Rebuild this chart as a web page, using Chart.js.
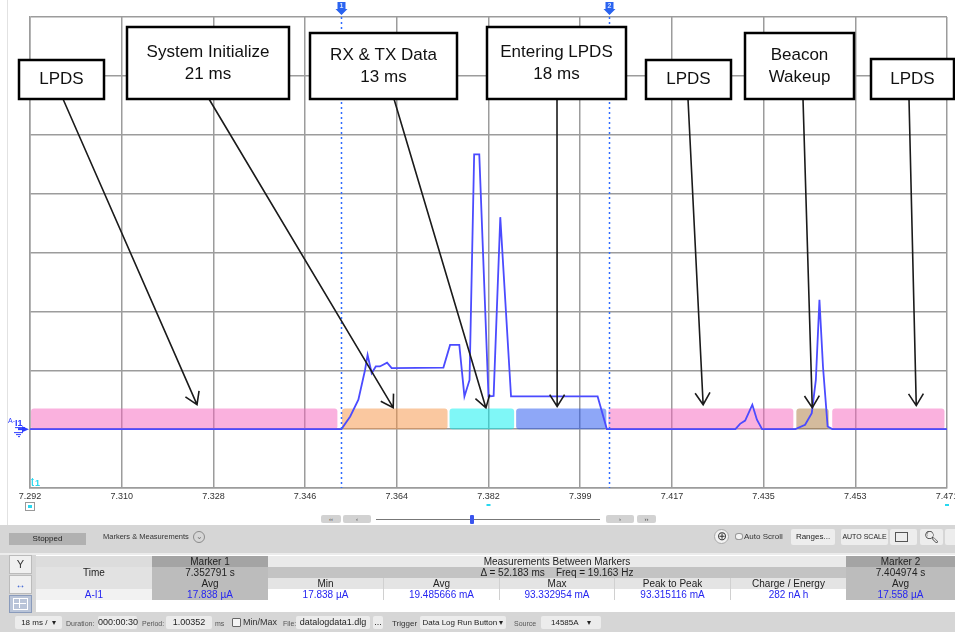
<!DOCTYPE html>
<html>
<head>
<meta charset="utf-8">
<script src="https://cdn.jsdelivr.net/npm/chart.js@4.4.0/dist/chart.umd.min.js"></script>
<style>
  body { margin: 0; background: #fff; font-family: "Liberation Sans", Arial, sans-serif; }
  #wrap { position: relative; width: 955px; height: 632px; overflow: hidden; background: #fff; }
  #grafico { position: absolute; left: 0; top: 0; }
  #borde { position: absolute; left: 7px; top: 0; width: 1px; height: 525px; background: #e2e2e2; }
  .a { position: absolute; white-space: nowrap; }
  .btn { position: absolute; background: #d2d2d2; border-radius: 2px; font-size: 6px; color: #444; text-align: center; line-height: 8px; height: 8px; }
  .c { position: absolute; height: 11px; line-height: 11px; font-size: 10px; text-align: center; white-space: nowrap; color: #222; }
  .v { color: #2626f0; }
  .tb { position: absolute; font-size: 8px; color: #333; white-space: nowrap; }
  .et { position: absolute; font-size: 7px; color: #555; white-space: nowrap; }
  .campo { position: absolute; background: #ececec; border-radius: 2px; height: 13px; line-height: 13px; font-size: 9px; color: #222; text-align: center; white-space: nowrap; }
</style>
</head>
<body>
<div id="wrap">
  <canvas id="grafico" width="955" height="525"></canvas>
  <div id="borde"></div>

  <!-- barra de desplazamiento bajo el gráfico -->
  <div class="btn" style="left:321px;top:515px;width:20px;">&lsaquo;&lsaquo;</div>
  <div class="btn" style="left:343px;top:515px;width:28px;">&lsaquo;</div>
  <div class="a" style="left:376px;top:519px;width:224px;height:1px;background:#777;"></div>
  <div class="a" style="left:470px;top:515px;width:4px;height:9px;background:#3a55ee;border-radius:1px;"></div>
  <div class="btn" style="left:606px;top:515px;width:28px;">&rsaquo;</div>
  <div class="btn" style="left:637px;top:515px;width:19px;">&rsaquo;&rsaquo;</div>

  <!-- panel gris -->
  <div class="a" style="left:0;top:525px;width:955px;height:107px;background:#d6d6d6;"></div>
  <div class="a" style="left:0;top:553px;width:955px;height:2px;background:#ececec;"></div>

  <div class="a" style="left:9px;top:533px;width:77px;height:12px;background:#b1b1b1;font-size:8px;line-height:12px;text-align:center;color:#222;">Stopped</div>
  <div class="tb" style="left:103px;top:532px;font-size:7.5px;">Markers &amp; Measurements</div>
  <div class="a" style="left:193px;top:531px;width:10px;height:10px;border:1px solid #8a8a8a;border-radius:50%;font-size:8px;line-height:9px;text-align:center;color:#777;">&#8964;</div>

  <div class="a" style="left:714px;top:529px;width:13px;height:13px;border:1px solid #aaa;border-radius:50%;background:#f2f2f2;font-size:12px;line-height:13px;text-align:center;color:#333;">&#8853;</div>
  <div class="a" style="left:735px;top:533px;width:6px;height:5px;border:1px solid #999;border-radius:40%;background:#f4f4f4;"></div>
  <div class="tb" style="left:744px;top:532px;">Auto Scroll</div>
  <div class="a" style="left:791px;top:529px;width:44px;height:16px;background:#ededed;border-radius:2px;font-size:8px;line-height:16px;text-align:center;color:#222;">Ranges...</div>
  <div class="a" style="left:841px;top:529px;width:47px;height:16px;background:#ededed;border-radius:2px;font-size:7px;line-height:16px;text-align:center;color:#222;">AUTO SCALE</div>
  <div class="a" style="left:890px;top:529px;width:27px;height:16px;background:#ededed;border-radius:2px;"></div>
  <div class="a" style="left:895px;top:532px;width:11px;height:8px;border:1px solid #555;"></div>
  <div class="a" style="left:920px;top:529px;width:23px;height:16px;background:#ededed;border-radius:2px;font-size:12px;line-height:16px;text-align:center;color:#333;">&#x1F50D;&#xFE0E;</div>
  <div class="a" style="left:945px;top:529px;width:14px;height:16px;background:#ededed;border-radius:2px;"></div>

  <!-- botones laterales de la tabla -->
  <div class="a" style="left:9px;top:555px;width:21px;height:17px;background:#f0f0f0;border:1px solid #bbb;font-size:11px;line-height:17px;text-align:center;color:#333;">&#933;</div>
  <div class="a" style="left:9px;top:575px;width:21px;height:17px;background:#f0f0f0;border:1px solid #bbb;font-size:10px;line-height:17px;text-align:center;color:#2a55d0;">&#8596;</div>
  <div class="a" style="left:9px;top:595px;width:21px;height:16px;background:#b9c4d8;border:1px solid #8a9bbb;"></div>
  <div class="a" style="left:13px;top:598px;width:13px;height:10px;border:1px solid #fff;"></div>
  <div class="a" style="left:19px;top:598px;width:1px;height:10px;background:#fff;"></div>
  <div class="a" style="left:13px;top:603px;width:13px;height:1px;background:#fff;"></div>

  <!-- tabla de mediciones -->
  <div class="a" style="left:36px;top:555px;width:919px;height:57px;background:#fff;"></div>

  <div class="c" style="left:36px;top:556px;width:116px;background:#dcdcdc;"></div>
  <div class="c" style="left:152px;top:556px;width:116px;background:#a4a4a4;">Marker 1</div>
  <div class="c" style="left:268px;top:556px;width:578px;background:#eaeaea;">Measurements Between Markers</div>
  <div class="c" style="left:846px;top:556px;width:109px;background:#a4a4a4;">Marker 2</div>

  <div class="c" style="left:36px;top:567px;width:116px;background:#e2e2e2;">Time</div>
  <div class="c" style="left:152px;top:567px;width:116px;background:#bcbcbc;">7.352791 s</div>
  <div class="c" style="left:268px;top:567px;width:578px;background:#c3c3c3;">&Delta; = 52.183 ms&nbsp;&nbsp;&nbsp; Freq = 19.163 Hz</div>
  <div class="c" style="left:846px;top:567px;width:109px;background:#bcbcbc;">7.404974 s</div>

  <div class="c" style="left:36px;top:578px;width:116px;background:#e2e2e2;"></div>
  <div class="c" style="left:152px;top:578px;width:116px;background:#bcbcbc;">Avg</div>
  <div class="c" style="left:268px;top:578px;width:115px;background:#e4e4e4;">Min</div>
  <div class="c" style="left:384px;top:578px;width:115px;background:#e4e4e4;">Avg</div>
  <div class="c" style="left:500px;top:578px;width:114px;background:#e4e4e4;">Max</div>
  <div class="c" style="left:615px;top:578px;width:115px;background:#e4e4e4;">Peak to Peak</div>
  <div class="c" style="left:731px;top:578px;width:115px;background:#e4e4e4;">Charge / Energy</div>
  <div class="c" style="left:846px;top:578px;width:109px;background:#bcbcbc;">Avg</div>

  <div class="c v" style="left:36px;top:589px;width:116px;background:#f2f2f2;">A-I1</div>
  <div class="c v" style="left:152px;top:589px;width:116px;background:#bcbcbc;">17.838 &micro;A</div>
  <div class="c v" style="left:268px;top:589px;width:115px;">17.838 &micro;A</div>
  <div class="c v" style="left:384px;top:589px;width:115px;">19.485666 mA</div>
  <div class="c v" style="left:500px;top:589px;width:114px;">93.332954 mA</div>
  <div class="c v" style="left:615px;top:589px;width:115px;">93.315116 mA</div>
  <div class="c v" style="left:731px;top:589px;width:115px;">282 nA h</div>
  <div class="c v" style="left:846px;top:589px;width:109px;background:#bcbcbc;">17.558 &micro;A</div>
  <div class="a" style="left:383px;top:578px;width:1px;height:22px;background:#d0d0d0;"></div>
  <div class="a" style="left:499px;top:578px;width:1px;height:22px;background:#d0d0d0;"></div>
  <div class="a" style="left:614px;top:578px;width:1px;height:22px;background:#d0d0d0;"></div>
  <div class="a" style="left:730px;top:578px;width:1px;height:22px;background:#d0d0d0;"></div>

  <!-- barra inferior -->
  <div class="campo" style="left:15px;top:616px;width:47px;font-size:8px;">18 ms / &nbsp;&#9662;</div>
  <div class="et" style="left:66px;top:620px;">Duration:</div>
  <div class="campo" style="left:98px;top:616px;width:39px;">000:00:30</div>
  <div class="et" style="left:142px;top:620px;">Period:</div>
  <div class="campo" style="left:166px;top:616px;width:46px;">1.00352</div>
  <div class="et" style="left:215px;top:620px;">ms</div>
  <div class="a" style="left:232px;top:618px;width:7px;height:7px;border:1px solid #666;border-radius:1px;background:#f4f4f4;"></div>
  <div class="tb" style="left:243px;top:617px;font-size:9px;">Min/Max</div>
  <div class="et" style="left:283px;top:620px;">File:</div>
  <div class="campo" style="left:296px;top:616px;width:74px;">datalogdata1.dlg</div>
  <div class="campo" style="left:373px;top:616px;width:10px;">...</div>
  <div class="tb" style="left:392px;top:619px;">Trigger</div>
  <div class="campo" style="left:420px;top:616px;width:86px;font-size:8px;">Data Log Run Button &#9662;</div>
  <div class="et" style="left:514px;top:620px;">Source</div>
  <div class="campo" style="left:541px;top:616px;width:60px;font-size:8px;">14585A &nbsp;&nbsp;&nbsp;&#9662;</div>
</div>

<script>
// Corriente medida en A-I1 (tiempo en s, corriente en mA)
const tiempos = [
  7.2920, 7.3528, 7.3545, 7.3561, 7.3574, 7.3579, 7.3587, 7.3595, 7.3603, 7.3617,
  7.3626, 7.3727, 7.3740, 7.3758, 7.3768, 7.3778, 7.3787, 7.3797, 7.3815, 7.3825,
  7.3838, 7.3859, 7.4028, 7.4046, 7.4297, 7.4306, 7.4316, 7.4330, 7.4339, 7.4349,
  7.4414, 7.4433, 7.4446, 7.4454, 7.4461, 7.4468, 7.4477, 7.4486, 7.4710
];
const corrientes = [
  0.02, 0.02, 4.3, 10.0, 20.1, 25.2, 19.0, 21.3, 21.3, 22.6,
  20.7, 20.9, 28.6, 28.6, 11.1, 16.7, 93.3, 93.3, 11.1, 11.3,
  72.0, 11.1, 11.1, 0.02, 0.02, 1.8, 2.9, 8.3, 3.2, 0.02,
  0.02, 1.5, 5.4, 16.7, 43.9, 21.0, 0.9, 0.02, 0.02
];

// Fases del ciclo (inicio / fin en s)
const faseNombre = ['LPDS', 'System Initialize', 'RX & TX Data', 'Entering LPDS', 'LPDS', 'Beacon\nWakeup', 'LPDS'];
const faseInicio = [7.2920, 7.3527, 7.3737, 7.3867, 7.4047, 7.4414, 7.4484];
const faseFin    = [7.3522, 7.3737, 7.3867, 7.4047, 7.4412, 7.4481, 7.4707];
const faseConDuracion = [false, true, true, true, false, false, false];
const alturaFase = 7; // mA

// Punta de cada flecha (s, mA)
const flechaT = [7.3246, 7.3629, 7.3810, 7.3949, 7.4234, 7.4447, 7.4650];
const flechaI = [8.3, 7.3, 7.2, 7.7, 8.3, 7.3, 8.0];

// Marcadores
const marcadores = [7.352791, 7.404974];

// Eje X
const ticksX = [7.2920, 7.3099, 7.3278, 7.3457, 7.3636, 7.3815, 7.3994, 7.4173, 7.4352, 7.4531, 7.4710];
const etiquetasX = ['7.292', '7.310', '7.328', '7.346', '7.364', '7.382', '7.399', '7.417', '7.435', '7.453', '7.471'];

// Estilo de las fases y posición de los recuadros de texto (px)
const coloresFase = [
  'rgba(245,100,190,0.5)', 'rgba(245,145,65,0.5)', 'rgba(0,240,240,0.5)',
  'rgba(30,80,240,0.5)', 'rgba(245,100,190,0.5)', 'rgba(170,120,60,0.5)', 'rgba(245,100,190,0.5)'
];
const cajas = [
  { x: 19,  y: 60, w: 85,  h: 39, ax: 63 },
  { x: 127, y: 27, w: 162, h: 72, ax: 209 },
  { x: 310, y: 33, w: 147, h: 66, ax: 394 },
  { x: 487, y: 27, w: 139, h: 72, ax: 557 },
  { x: 646, y: 60, w: 85,  h: 39, ax: 688 },
  { x: 745, y: 33, w: 109, h: 66, ax: 803 },
  { x: 871, y: 59, w: 83,  h: 40, ax: 909 }
];

const AZUL = '#4b4bff';

function textoFase(i) {
  const lineas = faseNombre[i].split('\n');
  if (faseConDuracion[i]) {
    lineas.push(Math.round((faseFin[i] - faseInicio[i]) * 1000) + ' ms');
  }
  return lineas;
}

function dibujarFlecha(ctx, x0, y0, x1, y1) {
  const ang = Math.atan2(y1 - y0, x1 - x0);
  const largo = 14, abre = 0.56;
  ctx.beginPath();
  ctx.moveTo(x0, y0);
  ctx.lineTo(x1, y1);
  ctx.moveTo(x1 - largo * Math.cos(ang - abre), y1 - largo * Math.sin(ang - abre));
  ctx.lineTo(x1, y1);
  ctx.lineTo(x1 - largo * Math.cos(ang + abre), y1 - largo * Math.sin(ang + abre));
  ctx.stroke();
}

const pluginFases = {
  id: 'fases',
  beforeDatasetsDraw(chart) {
    const { ctx, scales: { x, y } } = chart;
    ctx.save();
    const yTop = y.getPixelForValue(alturaFase);
    const yBot = y.getPixelForValue(0);
    faseInicio.forEach((t0, i) => {
      const x0 = x.getPixelForValue(t0) + 1;
      const x1 = x.getPixelForValue(faseFin[i]) - 1;
      ctx.fillStyle = coloresFase[i];
      ctx.beginPath();
      ctx.roundRect(x0, yTop, x1 - x0, yBot - yTop, 3);
      ctx.fill();
    });
    ctx.restore();
  },
  afterDatasetsDraw(chart) {
    const { ctx, chartArea, scales: { x, y } } = chart;
    ctx.save();

    // líneas de marcador punteadas
    ctx.strokeStyle = '#2f6bff';
    ctx.lineWidth = 1.5;
    ctx.setLineDash([2, 3]);
    marcadores.forEach(m => {
      const px = Math.round(x.getPixelForValue(m)) + 0.5;
      ctx.beginPath();
      ctx.moveTo(px, 12);
      ctx.lineTo(px, chartArea.bottom);
      ctx.stroke();
    });
    ctx.setLineDash([]);

    // iconos de marcador arriba
    marcadores.forEach((m, i) => {
      const px = Math.round(x.getPixelForValue(m)) + 0.5;
      ctx.fillStyle = '#2a63f0';
      ctx.beginPath();
      ctx.moveTo(px - 4, 2);
      ctx.lineTo(px + 4, 2);
      ctx.lineTo(px + 4, 9);
      ctx.lineTo(px + 6, 9);
      ctx.lineTo(px, 15);
      ctx.lineTo(px - 6, 9);
      ctx.lineTo(px - 4, 9);
      ctx.closePath();
      ctx.fill();
      ctx.fillStyle = '#cfe0ff';
      ctx.font = 'bold 7px "Liberation Sans"';
      ctx.textAlign = 'center';
      ctx.textBaseline = 'middle';
      ctx.fillText(String(i + 1), px, 6);
    });

    // flechas y recuadros
    ctx.strokeStyle = '#1b1b1b';
    ctx.lineWidth = 1.6;
    cajas.forEach((c, i) => {
      dibujarFlecha(ctx, c.ax, c.y + c.h, x.getPixelForValue(flechaT[i]), y.getPixelForValue(flechaI[i]));
    });
    cajas.forEach((c, i) => {
      ctx.fillStyle = '#fff';
      ctx.fillRect(c.x, c.y, c.w, c.h);
      ctx.strokeStyle = '#000';
      ctx.lineWidth = 2.5;
      ctx.strokeRect(c.x, c.y, c.w, c.h);
      const lineas = textoFase(i);
      ctx.fillStyle = '#111';
      ctx.font = '17px "Liberation Sans", Arial, sans-serif';
      ctx.textAlign = 'center';
      ctx.textBaseline = 'middle';
      const cy = c.y + c.h / 2;
      lineas.forEach((t, k) => {
        ctx.fillText(t, c.x + c.w / 2, cy + (k - (lineas.length - 1) / 2) * 22);
      });
    });

    // etiqueta del canal A-I1
    const y0 = y.getPixelForValue(0);
    ctx.fillStyle = '#2b3bff';
    ctx.textAlign = 'left';
    ctx.textBaseline = 'alphabetic';
    ctx.font = '7px "Liberation Sans"';
    ctx.fillText('A-', 8, y0 - 6);
    ctx.font = 'bold 9px "Liberation Sans"';
    ctx.fillText('I1', 15, y0 - 3);
    ctx.fillRect(15, y0 - 2, 10, 1);
    ctx.beginPath();
    ctx.moveTo(22, y0 - 3);
    ctx.lineTo(29, y0);
    ctx.lineTo(22, y0 + 3);
    ctx.fill();
    ctx.fillRect(18, y0 - 1, 6, 2);
    ctx.fillRect(14, y0 + 3, 9, 1);
    ctx.fillRect(16, y0 + 5, 5, 1);
    ctx.fillRect(18, y0 + 7, 2, 1);

    // marcas cian del eje
    ctx.fillStyle = '#28d8f0';
    ctx.font = 'bold 9px "Liberation Sans"';
    ctx.fillText('\u0288', 31, chartArea.bottom - 4);
    ctx.fillText('1', 35, chartArea.bottom - 2);
    [ticksX[5], ticksX[10]].forEach(v => {
      ctx.fillRect(x.getPixelForValue(v) - 2, 504, 4, 2);
    });
    ctx.strokeStyle = '#999';
    ctx.lineWidth = 1;
    ctx.strokeRect(25.5, 502.5, 9, 8);
    ctx.fillRect(28, 505, 4, 3);
    ctx.restore();
  }
};

const ctx = document.getElementById('grafico').getContext('2d');
new Chart(ctx, {
  type: 'line',
  data: {
    datasets: [{
      label: 'A-I1',
      data: tiempos.map((t, i) => ({ x: t, y: corrientes[i] })),
      borderColor: AZUL,
      borderWidth: 1.8,
      pointRadius: 0,
      tension: 0,
      fill: false
    }]
  },
  options: {
    responsive: false,
    animation: false,
    events: [],
    layout: { padding: { left: 30, right: 8, top: 17, bottom: 0 } },
    plugins: { legend: { display: false }, tooltip: { enabled: false } },
    scales: {
      x: {
        type: 'linear',
        min: 7.292,
        max: 7.471,
        afterBuildTicks: axis => { axis.ticks = ticksX.map(v => ({ value: v })); },
        afterFit: s => { s.height = 37; s.paddingLeft = 0; s.paddingRight = 0; },
        ticks: {
          callback: (v, i) => etiquetasX[i],
          font: { family: '"Liberation Sans"', size: 9 },
          color: '#333',
          padding: 3,
          maxRotation: 0,
          autoSkip: false
        },
        grid: { color: '#9c9c9c', lineWidth: 1.5, drawTicks: false },
        border: { color: '#9c9c9c', width: 1.5 }
      },
      y: {
        min: -20,
        max: 140,
        afterFit: s => { s.width = 0; },
        ticks: { stepSize: 20, display: false },
        grid: { color: '#9c9c9c', lineWidth: 1.5, drawTicks: false },
        border: { color: '#9c9c9c', width: 1.5 }
      }
    }
  },
  plugins: [pluginFases]
});
</script>
</body>
</html>
